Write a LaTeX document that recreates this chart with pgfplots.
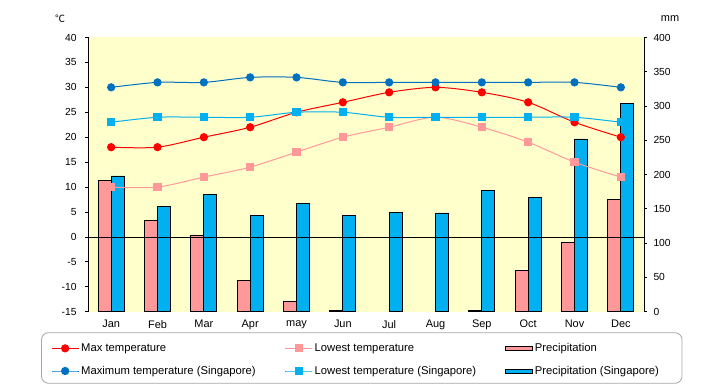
\documentclass[border=0pt]{standalone}
\usepackage{pgfplots}
\pgfplotsset{compat=1.18}
\usepackage{fontspec}
\setmainfont{Liberation Sans}
\newfontfamily\cjk{Noto Sans CJK JP}
\definecolor{bg}{HTML}{FFFFCC}
\definecolor{pinkbar}{HTML}{FF9999}
\definecolor{bluebar}{HTML}{00B0F0}
\definecolor{redl}{HTML}{FF0000}
\definecolor{pinkl}{HTML}{FF9999}
\definecolor{dblue}{HTML}{0070C0}
\definecolor{lblue}{HTML}{00B0F0}
\begin{document}
\begin{tikzpicture}
\useasboundingbox (0,0) rectangle (720bp,385bp);
\pgfplotsset{
  common/.style={
    at={(88bp,73.3bp)}, anchor=south west, scale only axis,
    width=556bp, height=274.2bp, xmin=-0.5, xmax=11.5,
    tick align=outside, major tick length=3bp,
    /pgf/number format/assume math mode=true,
    tick label style={font=\fontsize{10.3}{12}\selectfont},
    axis line style={black, line width=0.8bp},
    tick style={black, line width=0.8bp},
  }
}
% precipitation axis (right)
\begin{axis}[common,
  ymin=0, ymax=400, axis y line*=right, axis x line=none,
  ytick={0,50,...,400},
  axis background/.style={fill=bg},
  yticklabel style={anchor=west, xshift=3bp},
]
\addplot[ybar, bar width=13bp, bar shift=-6.5bp, fill=pinkbar, draw=black, line width=0.8bp]
  coordinates {(0,192) (1,133) (2,111) (3,46) (4,15) (5,2) (8,2) (9,60) (10,101) (11,164)};
\addplot[ybar, bar width=13bp, bar shift=6.5bp, fill=bluebar, draw=black, line width=0.8bp]
  coordinates {(0,198) (1,154) (2,171) (3,141) (4,158) (5,141) (6,145) (7,144) (8,177) (9,167) (10,252) (11,304)};
\end{axis}
% temperature axis (left)
\begin{axis}[common,
  ymin=-15, ymax=40, axis y line*=left, axis x line*=bottom,
  x axis line style={draw=none},
  xtick={0,...,11},
  xticklabels={Jan,Feb,Mar,Apr,may,Jun,Jul,Aug,Sep,Oct,Nov,Dec},
  x tick style={draw=none},
  xticklabel style={font=\fontsize{11}{13}\selectfont, yshift=-2bp},
  ytick={-15,-10,...,40},
  yticklabel style={anchor=east, xshift=-5bp},
  legend columns=3,
  legend cell align=left,
  legend image code/.code={\draw[mark repeat=2,mark phase=2,#1] plot coordinates {(0bp,0bp) (13.5bp,0bp) (27bp,0bp)};},
  legend style={draw=none, fill=none, at={(-0.072,-0.175)}, anchor=west,
    font=\fontsize{11.3}{13}\selectfont, row sep=9bp,
    /tikz/every even column/.append style={column sep=27bp}},
]
\addplot[black, line width=0.8bp, no marks, forget plot] coordinates {(-0.5,0) (11.5,0)};
\addplot[redl, line width=1bp, smooth, tension=0.5, mark=*, mark size=3.6bp, mark options={solid, fill=redl, draw=redl}]
  coordinates {(0,18) (1,18) (2,20) (3,22) (4,25) (5,27) (6,29) (7,30) (8,29) (9,27) (10,23) (11,20)};
\addlegendentry{Max temperature}
\addplot[pinkl, line width=1bp, smooth, tension=0.5, mark=square*, mark size=3.6bp, mark options={solid, fill=pinkl, draw=pinkl}]
  coordinates {(0,10) (1,10) (2,12) (3,14) (4,17) (5,20) (6,22) (7,24) (8,22) (9,19) (10,15) (11,12)};
\addlegendentry{Lowest temperature}
\addlegendimage{legend image code/.code={\draw[fill=pinkbar, draw=black, line width=0.8bp] (0bp,-2bp) rectangle (27bp,2bp);}}
\addlegendentry{Precipitation}
\addplot[dblue, line width=1bp, smooth, tension=0.5, mark=*, mark size=3.6bp, mark options={solid, fill=dblue, draw=dblue}]
  coordinates {(0,30) (1,31) (2,31) (3,32) (4,32) (5,31) (6,31) (7,31) (8,31) (9,31) (10,31) (11,30)};
\addlegendentry{Maximum temperature (Singapore)}
\addplot[lblue, line width=1bp, smooth, tension=0.5, mark=square*, mark size=3.6bp, mark options={solid, fill=lblue, draw=lblue}]
  coordinates {(0,23) (1,24) (2,24) (3,24) (4,25) (5,25) (6,24) (7,24) (8,24) (9,24) (10,24) (11,23)};
\addlegendentry{Lowest temperature (Singapore)}
\addlegendimage{legend image code/.code={\draw[fill=bluebar, draw=black, line width=0.8bp] (0bp,-2bp) rectangle (27bp,2bp);}}
\addlegendentry{Precipitation (Singapore)}
\end{axis}
\draw[black!35, rounded corners=7bp, line width=0.8bp] (41.5bp,1.7bp) rectangle (682bp,52.3bp);
\node[font=\fontsize{10}{12}\selectfont] at (60bp,366bp) {\cjk ℃};
\node[font=\fontsize{11}{13}\selectfont] at (670bp,366bp) {mm};
\end{tikzpicture}
\end{document}
